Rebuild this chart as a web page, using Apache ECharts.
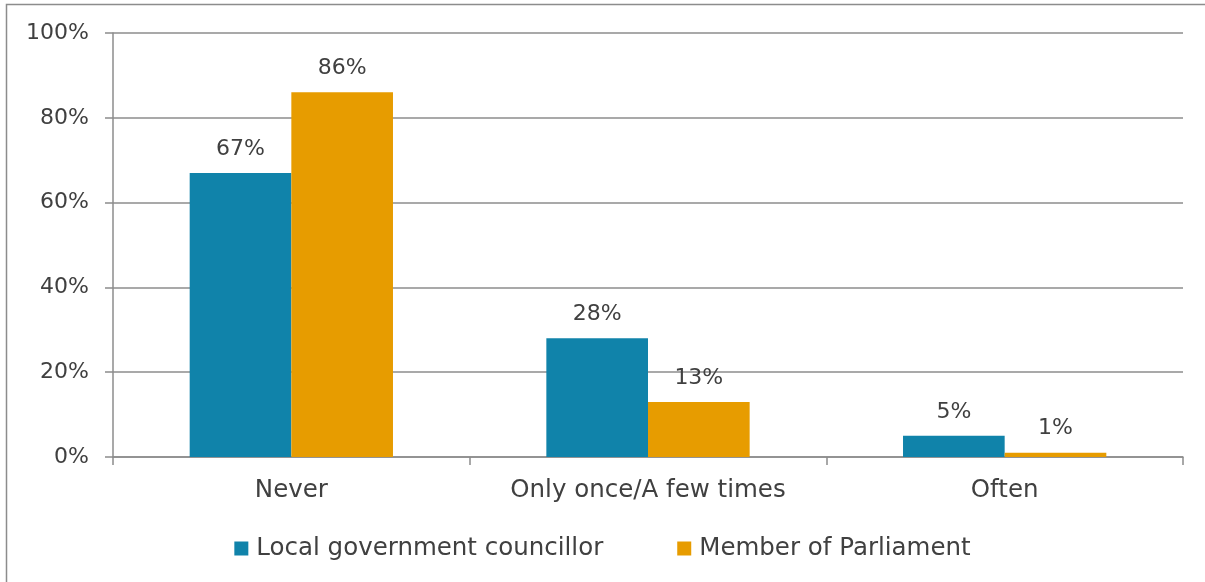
<!DOCTYPE html>
<html>
<head>
<meta charset="utf-8">
<script src="https://cdn.jsdelivr.net/npm/echarts@6/dist/echarts.min.js"></script>
<style>
html,body{margin:0;padding:0;background:#fff;}
#c{width:1205px;height:582px;}
</style>
</head>
<body>
<div id="c"></div>
<script>
const categories = ['Never', 'Only once/A few times', 'Often'];
const seriesNames = ['Local government councillor', 'Member of Parliament'];
const localCouncillor = [67, 28, 5];
const memberParliament = [86, 13, 1];
const yTicks = [0, 20, 40, 60, 80, 100];

const FONT = 'DejaVu Sans';
const TXT = '#404040';
const GRID = '#8c8c8c';
const WORD_SIZE = 24.5;
const NUM_SIZE = 22;

const chart = echarts.init(document.getElementById('c'), null, {renderer: 'canvas'});
chart.setOption({
  backgroundColor: '#fff',
  animation: false,
  textStyle: {fontFamily: FONT},
  graphic: [{
    type: 'rect',
    shape: {x: 6.5, y: 4.5, width: 1300, height: 700},
    style: {fill: 'none', stroke: '#8c8c8c', lineWidth: 1.5},
    silent: true
  }],
  grid: {left: 113, right: 22, top: 33, bottom: 125, containLabel: false},
  legend: {
    data: seriesNames,
    top: 531,
    left: 'center',
    itemWidth: 14,
    itemHeight: 14,
    itemGap: 74,
    icon: 'rect',
    textStyle: {fontFamily: FONT, fontSize: WORD_SIZE, color: TXT, padding: [0, 0, 0, 3]}
  },
  xAxis: {
    type: 'category',
    data: categories,
    axisLine: {lineStyle: {color: GRID, width: 1.5}},
    axisTick: {show: true, length: 8, interval: 0, alignWithLabel: false, lineStyle: {color: GRID, width: 1.5}},
    axisLabel: {fontFamily: FONT, fontSize: WORD_SIZE, color: TXT, margin: 21, interval: 0}
  },
  yAxis: {
    type: 'value',
    min: 0,
    max: 100,
    interval: 20,
    axisLine: {show: true, lineStyle: {color: GRID, width: 1.5}},
    axisTick: {show: true, inside: false, length: 8, lineStyle: {color: GRID, width: 1.5}},
    splitLine: {show: true, lineStyle: {color: GRID, width: 1.5}},
    axisLabel: {
      fontFamily: FONT, fontSize: NUM_SIZE, color: TXT, margin: 24,
      formatter: v => yTicks.includes(v) ? v + '%' : ''
    }
  },
  series: [
    {
      name: seriesNames[0], type: 'bar', data: localCouncillor,
      barGap: '0%', barCategoryGap: '43%',
      itemStyle: {color: '#1083AA'},
      label: {show: true, position: 'top', distance: 13, formatter: '{c}%', fontFamily: FONT, fontSize: NUM_SIZE, color: TXT}
    },
    {
      name: seriesNames[1], type: 'bar', data: memberParliament,
      barGap: '0%', barCategoryGap: '43%',
      itemStyle: {color: '#E79C00'},
      label: {show: true, position: 'top', distance: 13, formatter: '{c}%', fontFamily: FONT, fontSize: NUM_SIZE, color: TXT}
    }
  ]
});
</script>
</body>
</html>
